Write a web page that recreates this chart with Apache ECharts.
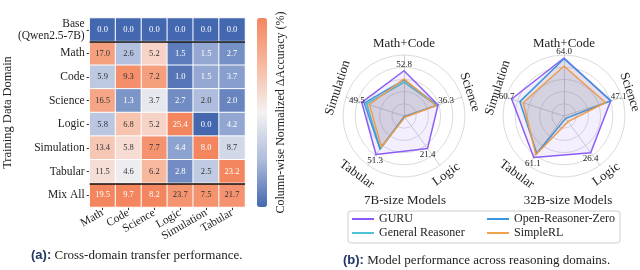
<!DOCTYPE html>
<html><head><meta charset="utf-8">
<script src="https://cdn.jsdelivr.net/npm/echarts@6/dist/echarts.min.js"></script>
<style>html,body{margin:0;padding:0;background:#fff}#c{width:640px;height:270px}</style>
</head><body><div id="c"></div>
<script>
// ---------- Heatmap data ----------
const heatCols = ['Math', 'Code', 'Science', 'Logic', 'Simulation', 'Tabular'];
const heatRows = ['Base\n(Qwen2.5-7B)', 'Math', 'Code', 'Science', 'Logic', 'Simulation', 'Tabular', 'Mix All'];
const rowBase       = [0.0, 0.0, 0.0, 0.0, 0.0, 0.0];
const rowMath       = [17.0, 2.6, 5.2, 1.5, 1.5, 2.7];
const rowCode       = [5.9, 9.3, 7.2, 1.0, 1.5, 3.7];
const rowScience    = [16.5, 1.3, 3.7, 2.7, 2.0, 2.0];
const rowLogic      = [5.8, 6.8, 5.2, 25.4, 0.0, 4.2];
const rowSimulation = [13.4, 5.8, 7.7, 4.4, 8.0, 8.7];
const rowTabular    = [11.5, 4.6, 6.2, 2.8, 2.5, 23.2];
const rowMixAll     = [19.5, 9.7, 8.2, 23.7, 7.5, 21.7];

// ---------- Radar data ----------
const radarDims = ['Math+Code', 'Simulation', 'Tabular', 'Logic', 'Science'];
const radarMax7B  = [71.2, 68.0, 65.7, 32.6, 61.8];
const radarMax32B = [67.3, 67.3, 72.5, 35.5, 58.5];
const guru7B      = [52.8, 49.5, 51.3, 21.4, 36.3];
const orz7B       = [42.1, 46.6, 44.0, 0.5, 35.4];
const genReas7B   = [39.4, 43.9, 43.5, 0.5, 34.9];
const simpleRL7B  = [43.3, 40.6, 41.3, 0.8, 34.3];
const guru32B     = [64.0, 60.7, 61.1, 26.4, 47.1];
const orz32B      = [63.2, 51.2, 55.1, 1.7, 47.5];
const simpleRL32B = [55.2, 47.4, 57.0, 4.1, 41.9];

const SERIF = '"Liberation Serif", "DejaVu Serif", serif';
const C_GURU = '#8A5CF5', C_ORZ = '#3A96E0', C_GR = '#4FC0D6', C_SRL = '#F5A04A';

// ---------- build heatmap data ----------
const rows = [rowBase, rowMath, rowCode, rowScience, rowLogic, rowSimulation, rowTabular, rowMixAll];
const heatData = [];
heatCols.forEach((c, ci) => {
  const col = rows.map(r => r[ci]);
  const mn = Math.min(...col), mx = Math.max(...col);
  rows.forEach((r, ri) => {
    const n = mx > mn ? (r[ci] - mn) / (mx - mn) : 0;
    const white = n < 0.22 || n >= 0.999;
    heatData.push({value: [ci, ri, n, r[ci]], label: {color: white ? '#ffffff' : '#333333'}});
  });
});

// ---------- layout constants ----------
const HX = 68, HY = 18, HW = 177, HH = 189;
const R1 = [404, 116], R2 = [564, 116], RR = 61;
const nameAngleAdj = [0, -5, -3, 0, 2];
const nameRadius = [72, 72, 75, 72, 70];

function radarNames(cx, cy) {
  return radarDims.map((name, i) => {
    const th = 90 + i * 72;
    const rad = (th + nameAngleAdj[i]) * Math.PI / 180;
    let rot = th - 90;
    if (rot > 90) rot -= 180;
    if (rot > 90) rot -= 180;
    return {
      type: 'text', x: cx + nameRadius[i] * Math.cos(rad), y: cy - nameRadius[i] * Math.sin(rad),
      rotation: rot * Math.PI / 180,
      style: {text: name, fontSize: 13, fontFamily: SERIF, fill: '#222', align: 'center', verticalAlign: 'middle'}
    };
  });
}

const lblFont = {fontSize: 9, fontFamily: SERIF, color: '#222'};
const guruLabel = {
  show: true, position: 'inside',
  formatter: function (p) {
    const d = p.dimensionIndex;
    const v = Array.isArray(p.value) ? p.value[d] : p.value;
    return '{p' + d + '|' + Number(v).toFixed(1) + '}';
  },
  rich: {
    p0: Object.assign({padding: [0, 0, 12, 0]}, lblFont),
    p1: Object.assign({padding: [0, 10, 4, 0]}, lblFont),
    p2: Object.assign({padding: [12, 2, 0, 0]}, lblFont),
    p3: Object.assign({padding: [12, 0, 0, 0]}, lblFont),
    p4: Object.assign({padding: [0, 0, 8, 16]}, lblFont)
  }
};

function radarCfg(center, maxArr) {
  return {
    center: center, radius: RR, startAngle: 90, splitNumber: 5, shape: 'circle',
    indicator: radarDims.map((n, i) => ({name: n, min: 0, max: maxArr[i]})),
    axisName: {show: false},
    splitLine: {lineStyle: {color: '#d2d2d2', width: 0.8}},
    splitArea: {show: false},
    axisLine: {lineStyle: {color: '#c4c4c4', width: 0.8}},
    axisTick: {show: false}, axisLabel: {show: false}
  };
}
function item(name, vals, color, fill) {
  return {name: name, value: vals, lineStyle: {color: color, width: 1.5}, itemStyle: {color: color},
          areaStyle: {color: fill}};
}

const chart = echarts.init(document.getElementById('c'), null, {renderer: 'canvas'});
chart.setOption({
  animation: false,
  backgroundColor: '#ffffff',
  title: [
    {text: '{b|(a):} Cross-domain transfer performance.', left: 31, top: 249, padding: 0,
     textStyle: {fontSize: 13, fontFamily: SERIF, fontWeight: 'normal', color: '#222',
       rich: {b: {fontSize: 13, fontFamily: '"Liberation Sans", sans-serif', fontWeight: 'bold', color: '#1F3864'}}}},
    {text: '{b|(b):} Model performance across reasoning domains.', left: 343, top: 254, padding: 0,
     textStyle: {fontSize: 13, fontFamily: SERIF, fontWeight: 'normal', color: '#222',
       rich: {b: {fontSize: 13, fontFamily: '"Liberation Sans", sans-serif', fontWeight: 'bold', color: '#1F3864'}}}}
  ],
  grid: [{left: HX, top: HY, width: HW, height: HH}],
  xAxis: [{type: 'category', data: heatCols, gridIndex: 0,
    axisLine: {show: false}, axisTick: {show: true, length: 3, alignWithLabel: true, lineStyle: {color: '#333'}},
    axisLabel: {interval: 0, rotate: 30, margin: 5, fontSize: 11.5, fontFamily: SERIF, color: '#222'},
    splitLine: {show: false}}],
  yAxis: [
    {type: 'category', data: heatRows, inverse: true, gridIndex: 0,
     axisLine: {show: false}, axisTick: {show: true, length: 3, alignWithLabel: true, lineStyle: {color: '#333'}},
     axisLabel: {interval: 0, margin: 5, fontSize: 11.5, fontFamily: SERIF, color: '#222', lineHeight: 12},
     name: 'Training Data Domain', nameLocation: 'middle', nameGap: 56,
     nameTextStyle: {fontSize: 12.5, fontFamily: SERIF, color: '#222'}},
    {type: 'value', min: 0, max: 8, gridIndex: 0, show: false}
  ],
  visualMap: [{type: 'continuous', seriesIndex: 0, dimension: 2, min: 0, max: 1,
    left: 257, top: HY, itemWidth: 10, itemHeight: HH, padding: 0, calculable: false,
    text: null, showLabel: false,
    inRange: {color: ['#4468B0', '#AEBDDD', '#F4F2F2', '#F8B9A0', '#F4865F']}}],
  radar: [radarCfg(R1, radarMax7B), radarCfg(R2, radarMax32B)],
  legend: [
    {orient: 'vertical', left: 352, top: 213, itemGap: 2, itemWidth: 22, itemHeight: 2, icon: 'rect',
     padding: 0, data: ['GURU', 'General Reasoner'],
     textStyle: {fontSize: 12, fontFamily: SERIF, color: '#222'}},
    {orient: 'vertical', left: 487, top: 213, itemGap: 2, itemWidth: 22, itemHeight: 2, icon: 'rect',
     padding: 0, data: ['Open-Reasoner-Zero', 'SimpleRL'],
     textStyle: {fontSize: 12, fontFamily: SERIF, color: '#222'}}
  ],
  series: [
    {type: 'heatmap', xAxisIndex: 0, yAxisIndex: 0, data: heatData,
     itemStyle: {borderColor: '#ffffff', borderWidth: 1},
     label: {show: true, fontSize: 8.5, fontFamily: SERIF, formatter: p => p.value[3].toFixed(1)},
     emphasis: {disabled: true}},
    {type: 'line', xAxisIndex: 0, yAxisIndex: 1, data: [], silent: true,
     markLine: {silent: true, symbol: 'none', label: {show: false},
       lineStyle: {color: '#111', width: 1.5, type: 'solid'},
       data: [{yAxis: 7}, {yAxis: 1}]}},
    {type: 'radar', radarIndex: 0, symbol: 'circle', symbolSize: 1, label: guruLabel,
     data: [item('GURU', guru7B, C_GURU, 'rgba(165,130,250,0.18)')]},
    {type: 'radar', radarIndex: 0, symbol: 'none',
     data: [item('General Reasoner', genReas7B, C_GR, 'rgba(110,115,130,0.13)'),
            item('Open-Reasoner-Zero', orz7B, C_ORZ, 'rgba(110,115,130,0.13)'),
            item('SimpleRL', simpleRL7B, C_SRL, 'rgba(110,115,130,0.13)')]},
    {type: 'radar', radarIndex: 1, symbol: 'circle', symbolSize: 1, label: guruLabel,
     data: [item('GURU', guru32B, C_GURU, 'rgba(165,130,250,0.18)')]},
    {type: 'radar', radarIndex: 1, symbol: 'none',
     data: [item('Open-Reasoner-Zero', orz32B, C_ORZ, 'rgba(110,115,130,0.18)'),
            item('SimpleRL', simpleRL32B, C_SRL, 'rgba(110,115,130,0.18)')]}
  ],
  graphic: [
    {type: 'text', x: 281, y: HY + HH / 2, rotation: Math.PI / 2,
     style: {text: 'Column-wise Normalized ΔAccuracy (%)', fontSize: 12, fontFamily: SERIF, fill: '#222',
             align: 'center', verticalAlign: 'middle'}},
    {type: 'text', x: 405, y: 201, style: {text: '7B-size Models', fontSize: 13, fontFamily: SERIF, fill: '#222', align: 'center', verticalAlign: 'middle'}},
    {type: 'text', x: 568, y: 201, style: {text: '32B-size Models', fontSize: 13, fontFamily: SERIF, fill: '#222', align: 'center', verticalAlign: 'middle'}},
    {type: 'rect', shape: {x: 348, y: 211, width: 272, height: 32, r: 3}, silent: true,
     style: {fill: 'none', stroke: '#cccccc', lineWidth: 1}}
  ].concat(radarNames(R1[0], R1[1])).concat(radarNames(R2[0], R2[1]))
});
</script></body></html>
